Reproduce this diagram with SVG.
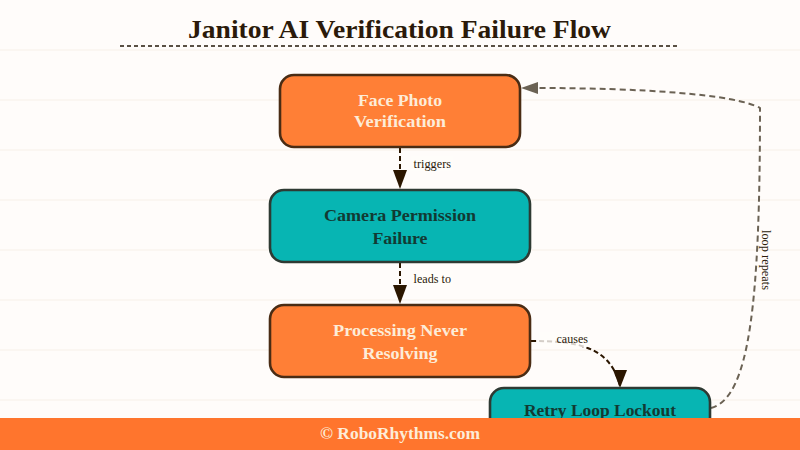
<svg xmlns="http://www.w3.org/2000/svg" width="800" height="450" viewBox="0 0 800 450">
<style>
.grid{stroke:#fbf6f1;stroke-width:2}
.node{stroke-width:2.6}
.o{fill:#ff7f36;stroke:#4a2c14}
.t{fill:#07b5b3;stroke:#2e3a33}
.nt{font:bold 17px "Liberation Serif",serif;text-anchor:middle}
.lt{fill:#fdecd8}
.dt{fill:#123a33}
.lab{font:12px "Liberation Serif",serif;fill:#2b1a0a}
.bg{fill:#fffcfa;fill-opacity:.8}
.c{fill:none;stroke:#2b1600;stroke-width:2;stroke-dasharray:5 3}
.l{fill:none;stroke:#6b6254;stroke-width:2;stroke-dasharray:6 4}
</style>
<rect width="800" height="450" fill="#fffcfa"/>
<g id="grid">
<path class="grid" d="M0 50H800M0 100H800M0 150H800M0 200H800M0 250H800M0 300H800M0 350H800M0 400H800"/>
</g>
<text id="title" x="399.5" y="38" text-anchor="middle" font-family="Liberation Serif, serif" font-weight="bold" font-size="25" fill="#2b1a0a" textLength="423" lengthAdjust="spacingAndGlyphs">Janitor AI Verification Failure Flow</text>
<path d="M120 46H677" stroke="#5a5044" stroke-width="2" stroke-dasharray="4 3" fill="none"/>
<g id="connectors">
<path class="c" d="M400 148V188"/>
<path d="M393 170H407L400 189Z" fill="#2b1600"/>
<path class="c" d="M400 263V303"/>
<path d="M393 285H407L400 304Z" fill="#2b1600"/>
<path class="c" d="M531 341C575 341 610 345 620 386"/>
<path d="M613 370H627L620 388Z" fill="#2b1600"/>
<path class="l" d="M711 408C750 398 760 300 760 108C735 94 640 88 535 88"/>
<path d="M521 88L538 82V94Z" fill="#6b6254"/>
<rect class="bg" x="411" y="156" width="42" height="15"/>
<rect class="bg" x="411" y="271" width="42" height="15"/>
<rect class="bg" x="539" y="332" width="51" height="15"/>
<text class="lab" x="413.5" y="168" textLength="37.5" lengthAdjust="spacingAndGlyphs">triggers</text>
<text class="lab" x="413.5" y="283" textLength="37.5" lengthAdjust="spacingAndGlyphs">leads to</text>
<text class="lab" x="556.5" y="343" textLength="31.5" lengthAdjust="spacingAndGlyphs">causes</text>
<text class="lab" transform="translate(762 230) rotate(90)" textLength="60" lengthAdjust="spacingAndGlyphs">loop repeats</text>
</g>
<g id="face"><rect class="node o" x="280" y="75" width="240" height="72" rx="14"/><text class="nt lt" x="400" y="106" textLength="84" lengthAdjust="spacingAndGlyphs">Face Photo</text><text class="nt lt" x="400" y="127" textLength="92" lengthAdjust="spacingAndGlyphs">Verification</text></g>
<g id="camera"><rect class="node t" x="270" y="190" width="260" height="72" rx="14"/><text class="nt dt" x="400" y="221" textLength="152" lengthAdjust="spacingAndGlyphs">Camera Permission</text><text class="nt dt" x="400" y="244" textLength="55" lengthAdjust="spacingAndGlyphs">Failure</text></g>
<g id="processing"><rect class="node o" x="270" y="305" width="260" height="72" rx="14"/><text class="nt lt" x="400" y="336" textLength="134" lengthAdjust="spacingAndGlyphs">Processing Never</text><text class="nt lt" x="400" y="359" textLength="75" lengthAdjust="spacingAndGlyphs">Resolving</text></g>
<g id="retry"><rect class="node t" x="490" y="388" width="220" height="72" rx="14"/><text class="nt dt" x="600" y="416" textLength="152" lengthAdjust="spacingAndGlyphs">Retry Loop Lockout</text></g>
<g id="footer"><rect x="0" y="418" width="800" height="32" fill="#ff752d"/><text x="400" y="439" text-anchor="middle" font-family="Liberation Serif, serif" font-weight="bold" font-size="16" fill="#fdecd8" textLength="160" lengthAdjust="spacingAndGlyphs">© RoboRhythms.com</text></g>
</svg>
